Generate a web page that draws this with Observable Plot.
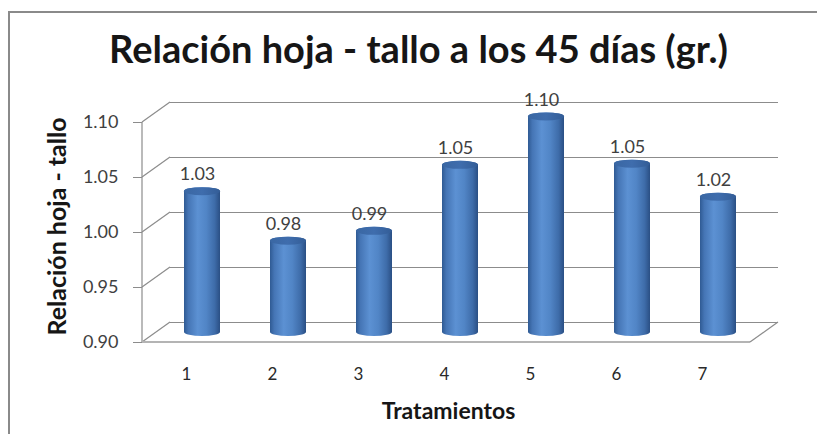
<!DOCTYPE html>
<html>
<head>
<meta charset="utf-8">
<script src="https://cdn.jsdelivr.net/npm/d3@7"></script>
<script src="https://cdn.jsdelivr.net/npm/@observablehq/plot@0.6"></script>
<style>
  html, body { margin: 0; padding: 0; background: #fff; overflow: hidden; }
  #wrap { position: relative; width: 817px; height: 434px; }
  #border { position: absolute; left: 8px; top: 11px; width: 900px; height: 500px;
            border-left: 2px solid #8a8a8a; border-top: 2px solid #8a8a8a; box-sizing: border-box; }
  #title { position: relative; height: 84px; box-sizing: border-box; padding-top: 29px; padding-left: 20px;
           margin: 0; font: bold 38px Lato, sans-serif; line-height: 38px; color: #161616; text-align: center;
           white-space: nowrap; }
  #chart { position: relative; }
</style>
</head>
<body>
<div id="wrap">
  <div id="border"></div>
  <div id="title"></div>
  <div id="chart"></div>
</div>
<script>
// ---- data ----
const treatments = ["1", "2", "3", "4", "5", "6", "7"];
const ratios = [1.028, 0.983, 0.992, 1.052, 1.096, 1.053, 1.023];
const yTicks = [0.90, 0.95, 1.00, 1.05, 1.10];
const titleText = "Relación hoja - tallo a los 45 días (gr.)";
const xTitle = "Tratamientos";
const yTitle = "Relación hoja - tallo";

const data = treatments.map((t, i) => ({t, v: ratios[i]}));

// ---- style constants (3D depth: half offsets) ----
const DX = 14, DY = 10;
const gridColor = "#8c8c8c";
const floorColor = "#b4b4b4";

document.getElementById("title").textContent = titleText;

// custom frame: side wall diagonals, front axis line, floor edges
const frame3d = (index, scales, values, dims) => {
  const y = scales.y;
  const x0 = dims.marginLeft, x1 = dims.width - dims.marginRight;
  const g = d3.create("svg:g").attr("fill", "none");
  for (const t of yTicks) {
    g.append("line")
      .attr("x1", x0 - DX).attr("y1", y(t) + DY)
      .attr("x2", x0 + DX).attr("y2", y(t) - DY)
      .attr("stroke", gridColor).attr("stroke-width", 1.2);
  }
  const yb = y(yTicks[0]), yt = y(yTicks[yTicks.length - 1]);
  g.append("line")
    .attr("x1", x0 - DX).attr("x2", x0 - DX)
    .attr("y1", yb + DY).attr("y2", yt + DY)
    .attr("stroke", gridColor).attr("stroke-width", 1.2);
  g.append("line")
    .attr("x1", x0 - DX).attr("x2", x1 - DX)
    .attr("y1", yb + DY).attr("y2", yb + DY)
    .attr("stroke", floorColor).attr("stroke-width", 2);
  g.append("line")
    .attr("x1", x1 - DX).attr("y1", yb + DY)
    .attr("x2", x1 + DX).attr("y2", yb - DY)
    .attr("stroke", gridColor).attr("stroke-width", 1.2);
  return g.node();
};

const chart = Plot.plot({
  width: 817,
  height: 350,
  marginLeft: 156,
  marginRight: 53,
  marginTop: 28,
  marginBottom: 102,
  style: {fontFamily: "Lato, sans-serif", fontSize: "17px", background: "transparent", color: "#404040"},
  x: {type: "band", domain: treatments, paddingInner: 0.58, paddingOuter: 0.29, label: null},
  y: {domain: [yTicks[0], yTicks[yTicks.length - 1]], label: null},
  marks: [
    // back wall gridlines
    Plot.ruleY(yTicks, {dx: DX, dy: -DY, stroke: gridColor, strokeWidth: 1.2}),
    frame3d,
    // y axis on front plane
    Plot.axisY(yTicks, {tickFormat: d3.format(".2f"), dx: -DX, dy: DY, tickSize: 9, tickPadding: 15,
                        stroke: gridColor, fill: "#404040", fontSize: 18, label: null}),
    // x axis labels on front plane
    Plot.axisX({dx: -16, dy: DY, tickSize: 0, tickPadding: 25, fill: "#2a2a2a", fontSize: 17, label: null}),
    // cylinder bodies
    Plot.barY(data, {x: "t", y1: yTicks[0], y2: "v", fill: "url(#cylBody)", rx: 30, ry: 4,
                     insetTop: -4, insetBottom: -4}),
    // cylinder tops
    Plot.barY(data, {x: "t", y1: "v", y2: "v", fill: "url(#cylTop)", rx: 30, ry: 4,
                     insetTop: -4, insetBottom: -4}),
    // value labels
    Plot.text(data, {x: "t", y: "v", text: d => d.v.toFixed(2), dy: -17, dx: -5,
                     fill: "#404040", fontSize: 18}),
    // axis titles
    Plot.text([yTitle], {frameAnchor: "left", textAnchor: "middle", rotate: -90, dx: -99, dy: 4, text: d => d,
                         fontSize: 25, fontWeight: "bold", fill: "#161616"}),
    Plot.text([xTitle], {frameAnchor: "bottom", textAnchor: "middle", dx: -12, dy: 86, text: d => d,
                         fontSize: 23, fontWeight: "bold", fill: "#161616"})
  ]
});

const svg = d3.select(chart);
const defs = svg.insert("defs", ":first-child");
const gb = defs.append("linearGradient").attr("id", "cylBody").attr("x1", 0).attr("x2", 1).attr("y1", 0).attr("y2", 0);
[[0, "#2f5a93"], [0.12, "#4575b5"], [0.38, "#5c91d3"], [0.62, "#5185c6"], [0.85, "#3e6ca9"], [1, "#2a4f84"]]
  .forEach(([o, c]) => gb.append("stop").attr("offset", o).attr("stop-color", c));
const gt = defs.append("linearGradient").attr("id", "cylTop").attr("x1", 0).attr("x2", 1).attr("y1", 0).attr("y2", 0);
[[0, "#3a67a3"], [0.5, "#3f6dad"], [1, "#335d97"]]
  .forEach(([o, c]) => gt.append("stop").attr("offset", o).attr("stop-color", c));

document.getElementById("chart").appendChild(chart);
</script>
</body>
</html>
